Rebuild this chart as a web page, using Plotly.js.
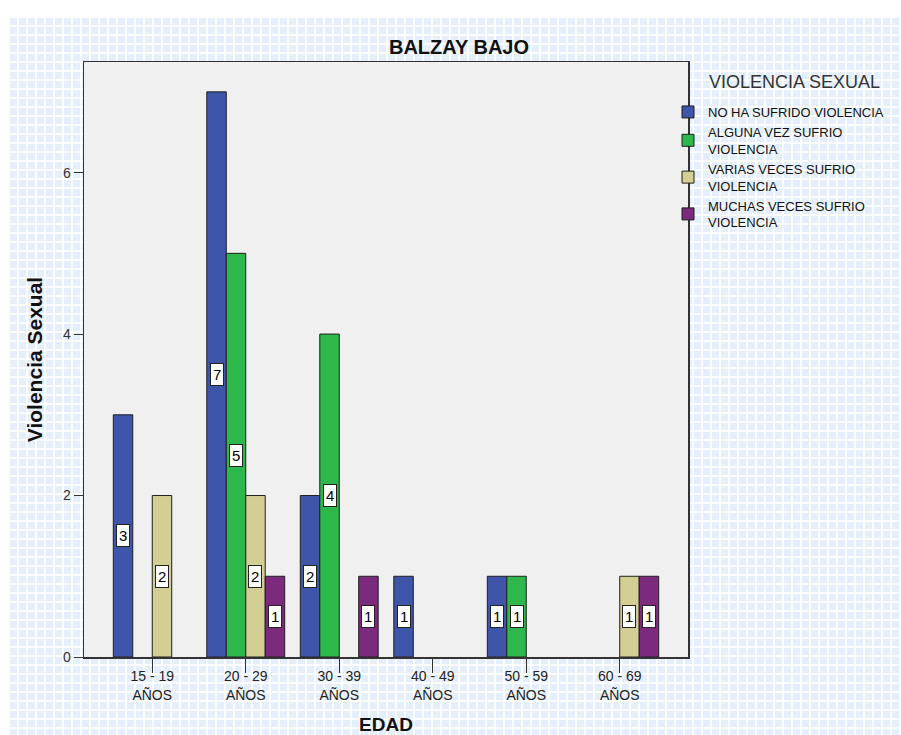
<!DOCTYPE html>
<html>
<head>
<meta charset="utf-8">
<script src="https://cdn.plot.ly/plotly-3.0.1.min.js"></script>
<style>
  html, body { margin: 0; padding: 0; background: #ffffff; }
  #bg {
    position: absolute; left: 8px; top: 16px; width: 893px; height: 719px;
    background-color: #e4effb;
    background-image:
      linear-gradient(to right, rgba(255,255,255,0.85) 2px, transparent 2px),
      linear-gradient(to bottom, rgba(255,255,255,0.85) 2px, transparent 2px);
    background-size: 9px 9px;
  }
  #chart { position: absolute; left: 0; top: 0; width: 901px; height: 735px; }
</style>
</head>
<body>
<div id="bg"></div>
<div id="chart"></div>
<script>
const categories = ["15 - 19<br>AÑOS", "20 - 29<br>AÑOS", "30 - 39<br>AÑOS", "40 - 49<br>AÑOS", "50 - 59<br>AÑOS", "60 - 69<br>AÑOS"];
const seriesNames = ["NO HA SUFRIDO VIOLENCIA", "ALGUNA VEZ SUFRIO<br>VIOLENCIA", "VARIAS VECES SUFRIO<br>VIOLENCIA", "MUCHAS VECES SUFRIO<br>VIOLENCIA"];
const noHaSufrido   = [3, 7, 2, 1, 1, 0];
const algunaVez     = [0, 5, 4, 0, 1, 0];
const variasVeces   = [2, 2, 0, 0, 0, 1];
const muchasVeces   = [0, 1, 1, 0, 0, 1];
const seriesValues = [noHaSufrido, algunaVez, variasVeces, muchasVeces];
const colors = ["#3e55aa", "#2eb84b", "#d3cf94", "#7b2a7d"];

const FONT = "Liberation Sans, Arial, sans-serif";
const bargap = 0.167;
const nSeries = seriesValues.length;
const barW = (1 - bargap) / nSeries;
const xIdx = categories.map((c, i) => i);

const traces = seriesValues.map((vals, k) => ({
  type: "bar",
  name: seriesNames[k],
  x: xIdx,
  // zero counts are drawn as no bar (empty slot kept by the grouping)
  y: vals.map(v => (v === 0 ? null : v)),
  marker: { color: colors[k], line: { color: "#1e1e1e", width: 1 } },
  hoverinfo: "none"
}));

const annotations = [];
seriesValues.forEach((vals, k) => {
  vals.forEach((v, i) => {
    if (v > 0) {
      annotations.push({
        x: i + (k - (nSeries - 1) / 2) * barW,
        y: v / 2,
        xref: "x", yref: "y",
        text: String(v),
        showarrow: false,
        font: { family: FONT, size: 15, color: "#000" },
        bgcolor: "#ffffff",
        bordercolor: "#222",
        borderwidth: 1,
        borderpad: 2
      });
    }
  });
});

annotations.push({
  xref: "paper", yref: "paper",
  x: (707 - 84) / 595 * 595 / 604, y: (657 - 82) / 595,
  xanchor: "left", yanchor: "middle",
  text: "VIOLENCIA SEXUAL",
  showarrow: false,
  font: { family: FONT, size: 18, color: "#333" }
});

const layout = {
  width: 901, height: 735,
  paper_bgcolor: "rgba(0,0,0,0)",
  plot_bgcolor: "#f0f0f0",
  margin: { l: 84, r: 213, t: 62, b: 78 },
  barmode: "group",
  bargap: bargap,
  bargroupgap: 0,
  showlegend: true,
  font: { family: FONT, color: "#222" },
  title: {
    text: "<b>BALZAY BAJO</b>",
    x: 459 / 901, xref: "container", xanchor: "center",
    y: 1 - 47 / 735, yref: "container", yanchor: "middle",
    font: { family: FONT, size: 20, color: "#111" }
  },
  xaxis: {
    range: [-0.73, 5.73],
    tickvals: xIdx,
    ticktext: categories,
    ticks: "outside", ticklen: 14, tickcolor: "#333", tickwidth: 1,
    ticklabelstandoff: -8,
    tickfont: { family: FONT, size: 14, color: "#222" },
    showline: true, linecolor: "#333", linewidth: 1.5, mirror: true,
    showgrid: false, zeroline: false,
    title: { text: "<b>EDAD</b>", font: { family: FONT, size: 19, color: "#111" }, standoff: 22 }
  },
  yaxis: {
    range: [0, 7.37],
    tickvals: [0, 2, 4, 6],
    ticks: "outside", ticklen: 9, tickcolor: "#333", tickwidth: 1,
    tickfont: { family: FONT, size: 14, color: "#333" },
    showline: true, linecolor: "#333", linewidth: 1.5, mirror: true,
    showgrid: false, zeroline: false,
    title: { text: "<b>Violencia Sexual</b>", font: { family: FONT, size: 21, color: "#111" }, standoff: 14 }
  },
  legend: {
    x: (668 - 84) / 604, xanchor: "left",
    y: (657 - 97) / 595, yanchor: "top",
    bgcolor: "rgba(0,0,0,0)",
    font: { family: FONT, size: 13, color: "#111" },
    tracegroupgap: 0,
    itemclick: false
  },
  annotations: annotations
};

Plotly.newPlot("chart", traces, layout, { displayModeBar: false, staticPlot: true });
</script>
</body>
</html>
